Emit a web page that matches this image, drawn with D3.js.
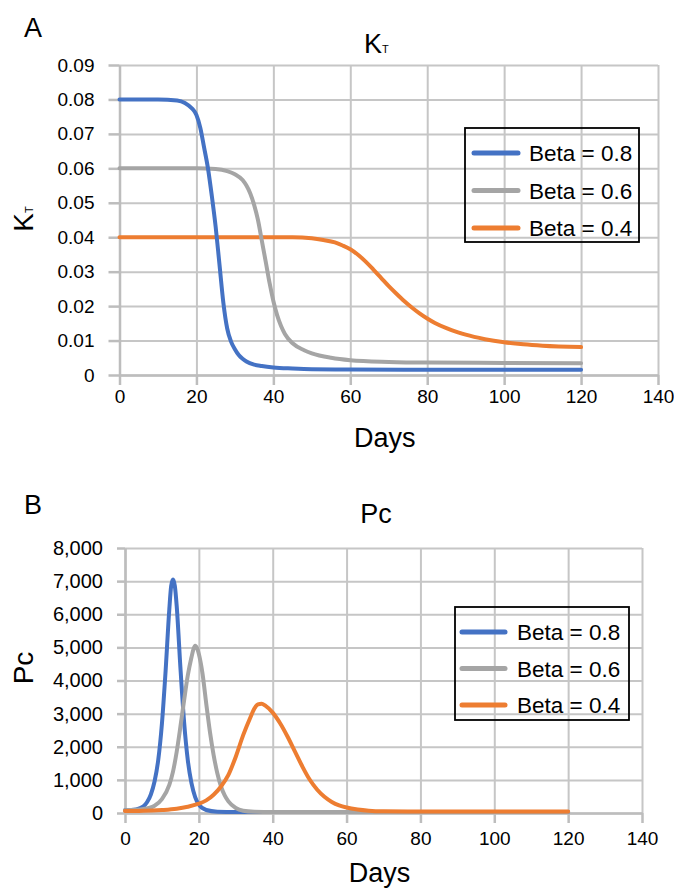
<!DOCTYPE html>
<html>
<head>
<meta charset="utf-8">
<script src="https://cdn.jsdelivr.net/npm/d3@7"></script>
<style>
    body { margin: 0; background: #fff; }
    svg text { font-family: "Liberation Sans", Arial, sans-serif; fill: #000; }
    .grid line { stroke: #c6c6c6; stroke-width: 2; }
    .axis .domain, .axis line { stroke: #bdbdbd; stroke-width: 2.5; }
    .tick-label { font-size: 19px; }
    .series { fill: none; stroke-width: 4; stroke-linecap: round; stroke-linejoin: round; }
</style>
</head>
<body>
<div id="chart"></div>
<script>
// Define variables
// ============================================================================
const dayTicks = [0, 20, 40, 60, 80, 100, 120, 140];
const ktTicks = [0, 0.01, 0.02, 0.03, 0.04, 0.05, 0.06, 0.07, 0.08, 0.09];
const pcTicks = [0, 1000, 2000, 3000, 4000, 5000, 6000, 7000, 8000];
const betaLabels = ["Beta = 0.8", "Beta = 0.6", "Beta = 0.4"];
const betaColors = ["#4472C4", "#A5A5A5", "#ED7D31"];

// Panel A: K_T
const ktDays08 = [0, 10, 15, 17, 19, 20, 21, 22, 23, 24, 25, 26, 27, 28, 29, 30, 31, 32, 33, 35, 37, 40, 45, 50, 60, 80, 100, 120];
const ktBeta08 = [0.08, 0.08, 0.0797, 0.079, 0.0772, 0.0755, 0.0718, 0.066, 0.06, 0.052, 0.043, 0.032, 0.021, 0.0135, 0.0097, 0.0075, 0.0058, 0.0047, 0.0039, 0.003, 0.0026, 0.0022, 0.0019, 0.0017, 0.0016, 0.0015, 0.0015, 0.0015];

const ktDays06 = [0, 20, 25, 28, 30, 32, 33, 34, 35, 36, 37, 38, 39, 40, 41, 42, 43, 45, 48, 50, 55, 60, 70, 80, 100, 120];
const ktBeta06 = [0.06, 0.06, 0.0598, 0.0592, 0.0583, 0.0566, 0.055, 0.0527, 0.0494, 0.045, 0.039, 0.033, 0.0268, 0.0215, 0.0173, 0.0142, 0.0119, 0.0092, 0.0072, 0.0063, 0.005, 0.0043, 0.0038, 0.0036, 0.0035, 0.0034];

const ktDays04 = [0, 45, 50, 53, 56, 58, 60, 62, 64, 66, 68, 70, 72, 74, 76, 78, 80, 82, 85, 88, 90, 95, 100, 105, 110, 120];
const ktBeta04 = [0.04, 0.04, 0.0397, 0.0392, 0.0385, 0.0376, 0.0365, 0.0349, 0.0329, 0.0306, 0.0282, 0.0258, 0.0236, 0.0215, 0.0196, 0.0179, 0.0164, 0.0151, 0.0136, 0.0124, 0.0117, 0.0104, 0.0095, 0.0089, 0.0085, 0.0081];

// Panel B: Pc
const pcDays08 = [0, 3, 5, 6, 7, 8, 9, 10, 11, 12, 12.5, 13, 13.5, 14, 15, 16, 17, 18, 19, 20, 22, 25, 30, 40, 120];
const pcBeta08 = [80, 110, 200, 330, 560, 950, 1600, 2700, 4300, 6150, 6850, 7050, 6850, 6250, 4400, 2750, 1600, 900, 480, 250, 90, 40, 30, 30, 30];

const pcDays06 = [0, 5, 8, 10, 12, 13, 14, 15, 16, 17, 18, 18.5, 19, 19.5, 20, 21, 22, 23, 24, 25, 26, 27, 28, 30, 32, 35, 40, 120];
const pcBeta06 = [80, 120, 220, 420, 850, 1250, 1850, 2600, 3400, 4150, 4700, 4930, 5050, 4980, 4800, 4200, 3300, 2450, 1750, 1200, 800, 530, 350, 150, 70, 40, 30, 30];

const pcDays04 = [0, 5, 10, 14, 17, 20, 22, 24, 26, 28, 30, 32, 34, 35, 36, 37, 38, 40, 42, 44, 46, 48, 50, 52, 54, 56, 58, 60, 63, 66, 70, 80, 100, 120];
const pcBeta04 = [60, 65, 90, 130, 190, 280, 380, 550, 800, 1150, 1700, 2350, 2900, 3150, 3280, 3300, 3240, 3030, 2710, 2310, 1860, 1410, 1010, 710, 490, 335, 230, 165, 105, 70, 52, 45, 45, 45];

// Define Functions
// ============================================================================
function zip(days, values) {
    return days.map((d, i) => ({Day: d, Value: values[i]}));
}

function addSubText(sel, main, sub, size, subSize) {
    sel.append("tspan").attr("font-size", size).text(main);
    sel.append("tspan").attr("font-size", subSize).text(sub);
}

function drawPanel(svg, p) {
    const xScale = d3.scaleLinear().domain([0, 140]).range([p.left, p.right]);
    const yScale = d3.scaleLinear().domain([0, p.yMax]).range([p.bottom, p.top]);

    // Grid
    svg.append("g")
        .attr("class", "grid")
        .attr("transform", "translate(0," + p.bottom + ")")
        .call(d3.axisBottom(xScale).tickValues(dayTicks).tickSize(-(p.bottom - p.top)).tickFormat(""))
        .call(g => g.select(".domain").remove());

    svg.append("g")
        .attr("class", "grid")
        .attr("transform", "translate(" + p.left + ",0)")
        .call(d3.axisLeft(yScale).tickValues(p.yTicks).tickSize(-(p.right - p.left)).tickFormat(""))
        .call(g => g.select(".domain").remove());

    // Axes
    const xAxis = svg.append("g")
        .attr("class", "axis")
        .attr("transform", "translate(0," + p.bottom + ")")
        .call(d3.axisBottom(xScale).tickValues(dayTicks).tickSizeInner(10).tickSizeOuter(0).tickPadding(p.xPad));
    xAxis.selectAll("text").attr("class", "tick-label").attr("font-size", null);

    const yAxis = svg.append("g")
        .attr("class", "axis")
        .attr("transform", "translate(" + p.left + ",0)")
        .call(d3.axisLeft(yScale).tickValues(p.yTicks).tickFormat(p.yFormat)
            .tickSizeInner(p.yTick).tickSizeOuter(0).tickPadding(p.yPad));
    yAxis.selectAll("text").attr("class", "tick-label").attr("font-size", null)
        .style("font-size", p.yFont);
    svg.selectAll(".axis").attr("font-family", null);

    // Lines
    const line = d3.line()
        .curve(d3.curveMonotoneX)
        .x(d => xScale(d.Day))
        .y(d => yScale(d.Value));

    p.order.forEach(i => {
        svg.append("path")
            .datum(p.series[i])
            .attr("class", "series")
            .attr("stroke", betaColors[i])
            .attr("d", line);
    });

    // Legend
    const lg = p.legend;
    svg.append("rect")
        .attr("x", lg.x).attr("y", lg.y)
        .attr("width", lg.w).attr("height", lg.h)
        .attr("fill", "none")
        .attr("stroke", "#000")
        .attr("stroke-width", 1.8);

    betaLabels.forEach((label, i) => {
        const cy = lg.rowY + i * lg.rowGap;
        svg.append("line")
            .attr("x1", lg.x + lg.lineX0).attr("x2", lg.x + lg.lineX1)
            .attr("y1", cy).attr("y2", cy)
            .attr("stroke", betaColors[i])
            .attr("stroke-width", 5)
            .attr("stroke-linecap", "round");
        svg.append("text")
            .attr("x", lg.x + lg.textX)
            .attr("y", cy)
            .attr("dy", "0.36em")
            .attr("font-size", "22.5px")
            .text(label);
    });

    // Panel letter
    svg.append("text")
        .attr("x", 24).attr("y", p.letterY)
        .attr("font-size", "27px")
        .text(p.letter);

    // X title
    svg.append("text")
        .attr("x", (p.left + p.right) / 2 - 4)
        .attr("y", p.daysY)
        .attr("text-anchor", "middle")
        .attr("font-size", "27px")
        .text("Days");
}

// Plot
// ============================================================================
const svg = d3.select("#chart")
    .append("svg")
        .attr("width", 674)
        .attr("height", 888);

drawPanel(svg, {
    left: 119.5, right: 658, top: 65, bottom: 375,
    yMax: 0.09, yTicks: ktTicks,
    yFormat: d => d === 0 ? "0" : d3.format(".2f")(d),
    yTick: 11, yPad: 14, xPad: 5, yFont: "19px",
    series: [zip(ktDays08, ktBeta08), zip(ktDays06, ktBeta06), zip(ktDays04, ktBeta04)],
    order: [2, 1, 0],
    legend: {x: 465, y: 128, w: 174, h: 114, rowY: 153, rowGap: 37.5, lineX0: 9, lineX1: 53, textX: 64},
    letter: "A", letterY: 37,
    daysY: 447
});

drawPanel(svg, {
    left: 125, right: 642, top: 548, bottom: 813,
    yMax: 8000, yTicks: pcTicks,
    yFormat: d3.format(","),
    yTick: 8, yPad: 14, xPad: 9, yFont: "20px",
    series: [zip(pcDays08, pcBeta08), zip(pcDays06, pcBeta06), zip(pcDays04, pcBeta04)],
    order: [0, 1, 2],
    legend: {x: 455, y: 607, w: 174, h: 113, rowY: 632, rowGap: 36.5, lineX0: 7, lineX1: 50, textX: 62},
    letter: "B", letterY: 514,
    daysY: 882
});

// Titles
svg.append("text")
    .attr("x", 364).attr("y", 53)
    .call(addSubText, "K", "T", "27px", "11px");

svg.append("text")
    .attr("x", 376).attr("y", 523)
    .attr("text-anchor", "middle")
    .attr("font-size", "27px")
    .text("Pc");

// Y titles
svg.append("text")
    .attr("transform", "translate(33,219) rotate(-90)")
    .attr("text-anchor", "middle")
    .call(addSubText, "K", "T", "28px", "11px");

svg.append("text")
    .attr("transform", "translate(33,668) rotate(-90)")
    .attr("text-anchor", "middle")
    .attr("font-size", "28px")
    .text("Pc");
</script>
</body>
</html>
